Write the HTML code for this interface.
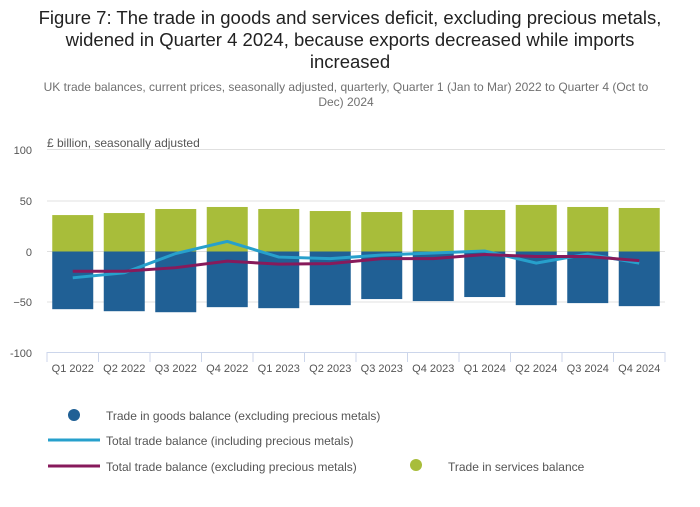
<!DOCTYPE html>
<html><head><meta charset="utf-8"><style>
body{margin:0;background:#fff;width:700px;height:502px;overflow:hidden;font-family:"Liberation Sans",sans-serif}
</style></head><body>
<svg width="700" height="502" xmlns="http://www.w3.org/2000/svg" font-family="Liberation Sans, sans-serif">
<g text-anchor="middle" fill="#222" font-size="18.5">
<text x="350" y="24">Figure 7: The trade in goods and services deficit, excluding precious metals,</text>
<text x="350" y="46">widened in Quarter 4 2024, because exports decreased while imports</text>
<text x="350" y="68">increased</text>
</g>
<g text-anchor="middle" fill="#707070" font-size="12">
<text x="346" y="91">UK trade balances, current prices, seasonally adjusted, quarterly, Quarter 1 (Jan to Mar) 2022 to Quarter 4 (Oct to</text>
<text x="346" y="106">Dec) 2024</text>
</g>
<text x="47" y="147" font-size="12" fill="#555">£ billion, seasonally adjusted</text>
<g stroke="#e0e0e0" stroke-width="1">
<line x1="47" x2="665" y1="149.5" y2="149.5"/>
<line x1="47" x2="665" y1="201" y2="201"/>
<line x1="47" x2="665" y1="251.5" y2="251.5"/>
<line x1="47" x2="665" y1="302" y2="302"/>
</g>
<g text-anchor="end" font-size="11" fill="#555">
<text x="32" y="154">100</text><text x="32" y="205">50</text><text x="32" y="256">0</text><text x="32" y="306">−50</text><text x="32" y="357">-100</text>
</g>
<g id="bars"></g>
<line x1="47" x2="665" y1="352.5" y2="352.5" stroke="#ccd6eb"/>
<g id="ticks" stroke="#ccd6eb"></g>
<g id="labels" text-anchor="middle" font-size="11" fill="#555"></g>
<polyline id="blue" fill="none" stroke="#27a0cc" stroke-width="3"/>
<polyline id="mar" fill="none" stroke="#871a5b" stroke-width="3"/>
<g font-size="12" fill="#555">
<circle cx="74" cy="415" r="6" fill="#206095"/><text x="106" y="420">Trade in goods balance (excluding precious metals)</text>
<line x1="48" x2="100" y1="440" y2="440" stroke="#27a0cc" stroke-width="3"/><text x="106" y="445">Total trade balance (including precious metals)</text>
<line x1="48" x2="100" y1="466" y2="466" stroke="#871a5b" stroke-width="3"/><text x="106" y="471">Total trade balance (excluding precious metals)</text>
<circle cx="416" cy="465" r="6" fill="#a8bd3a"/><text x="448" y="471">Trade in services balance</text>
</g>
</svg>
<script>
var ns="http://www.w3.org/2000/svg";
var sv=[36,38,42,44,42,40,39,41,41,46,44,43];
var gv=[-57,-59,-60,-55,-56,-53,-47,-49,-45,-53,-51,-54];
var bl=[-26,-21,-2,10,-5.5,-7,-3.5,-1.5,0.5,-11.5,-2.5,-11.5];
var mr=[-19.5,-19.5,-16,-9.5,-12.5,-12,-7,-7,-3,-5,-5,-9];
var lab=["Q1 2022","Q2 2022","Q3 2022","Q4 2022","Q1 2023","Q2 2023","Q3 2023","Q4 2023","Q1 2024","Q2 2024","Q3 2024","Q4 2024"];
function y(v){return 251.5-v*1.012}
var b=document.getElementById("bars"),t=document.getElementById("ticks"),l=document.getElementById("labels");
var pb=[],pm=[];
for(var i=0;i<12;i++){var cx=47+51.5*(i+0.5);
var r=document.createElementNS(ns,"rect");r.setAttribute("x",cx-20.5);r.setAttribute("width",41);r.setAttribute("y",y(sv[i]));r.setAttribute("height",y(0)-y(sv[i]));r.setAttribute("fill","#a8bd3a");b.appendChild(r);
r=document.createElementNS(ns,"rect");r.setAttribute("x",cx-20.5);r.setAttribute("width",41);r.setAttribute("y",y(0));r.setAttribute("height",y(gv[i])-y(0));r.setAttribute("fill","#206095");b.appendChild(r);
var ln=document.createElementNS(ns,"line");var tx=47+51.5*i;ln.setAttribute("x1",tx);ln.setAttribute("x2",tx);ln.setAttribute("y1",352);ln.setAttribute("y2",362);t.appendChild(ln);
var tt=document.createElementNS(ns,"text");tt.setAttribute("x",cx);tt.setAttribute("y",372);tt.textContent=lab[i];l.appendChild(tt);
pb.push(cx+","+y(bl[i]));pm.push(cx+","+y(mr[i]));}
var ln=document.createElementNS(ns,"line");ln.setAttribute("x1",665);ln.setAttribute("x2",665);ln.setAttribute("y1",352);ln.setAttribute("y2",362);t.appendChild(ln);
document.getElementById("blue").setAttribute("points",pb.join(" "));
document.getElementById("mar").setAttribute("points",pm.join(" "));
</script>
</body></html>
